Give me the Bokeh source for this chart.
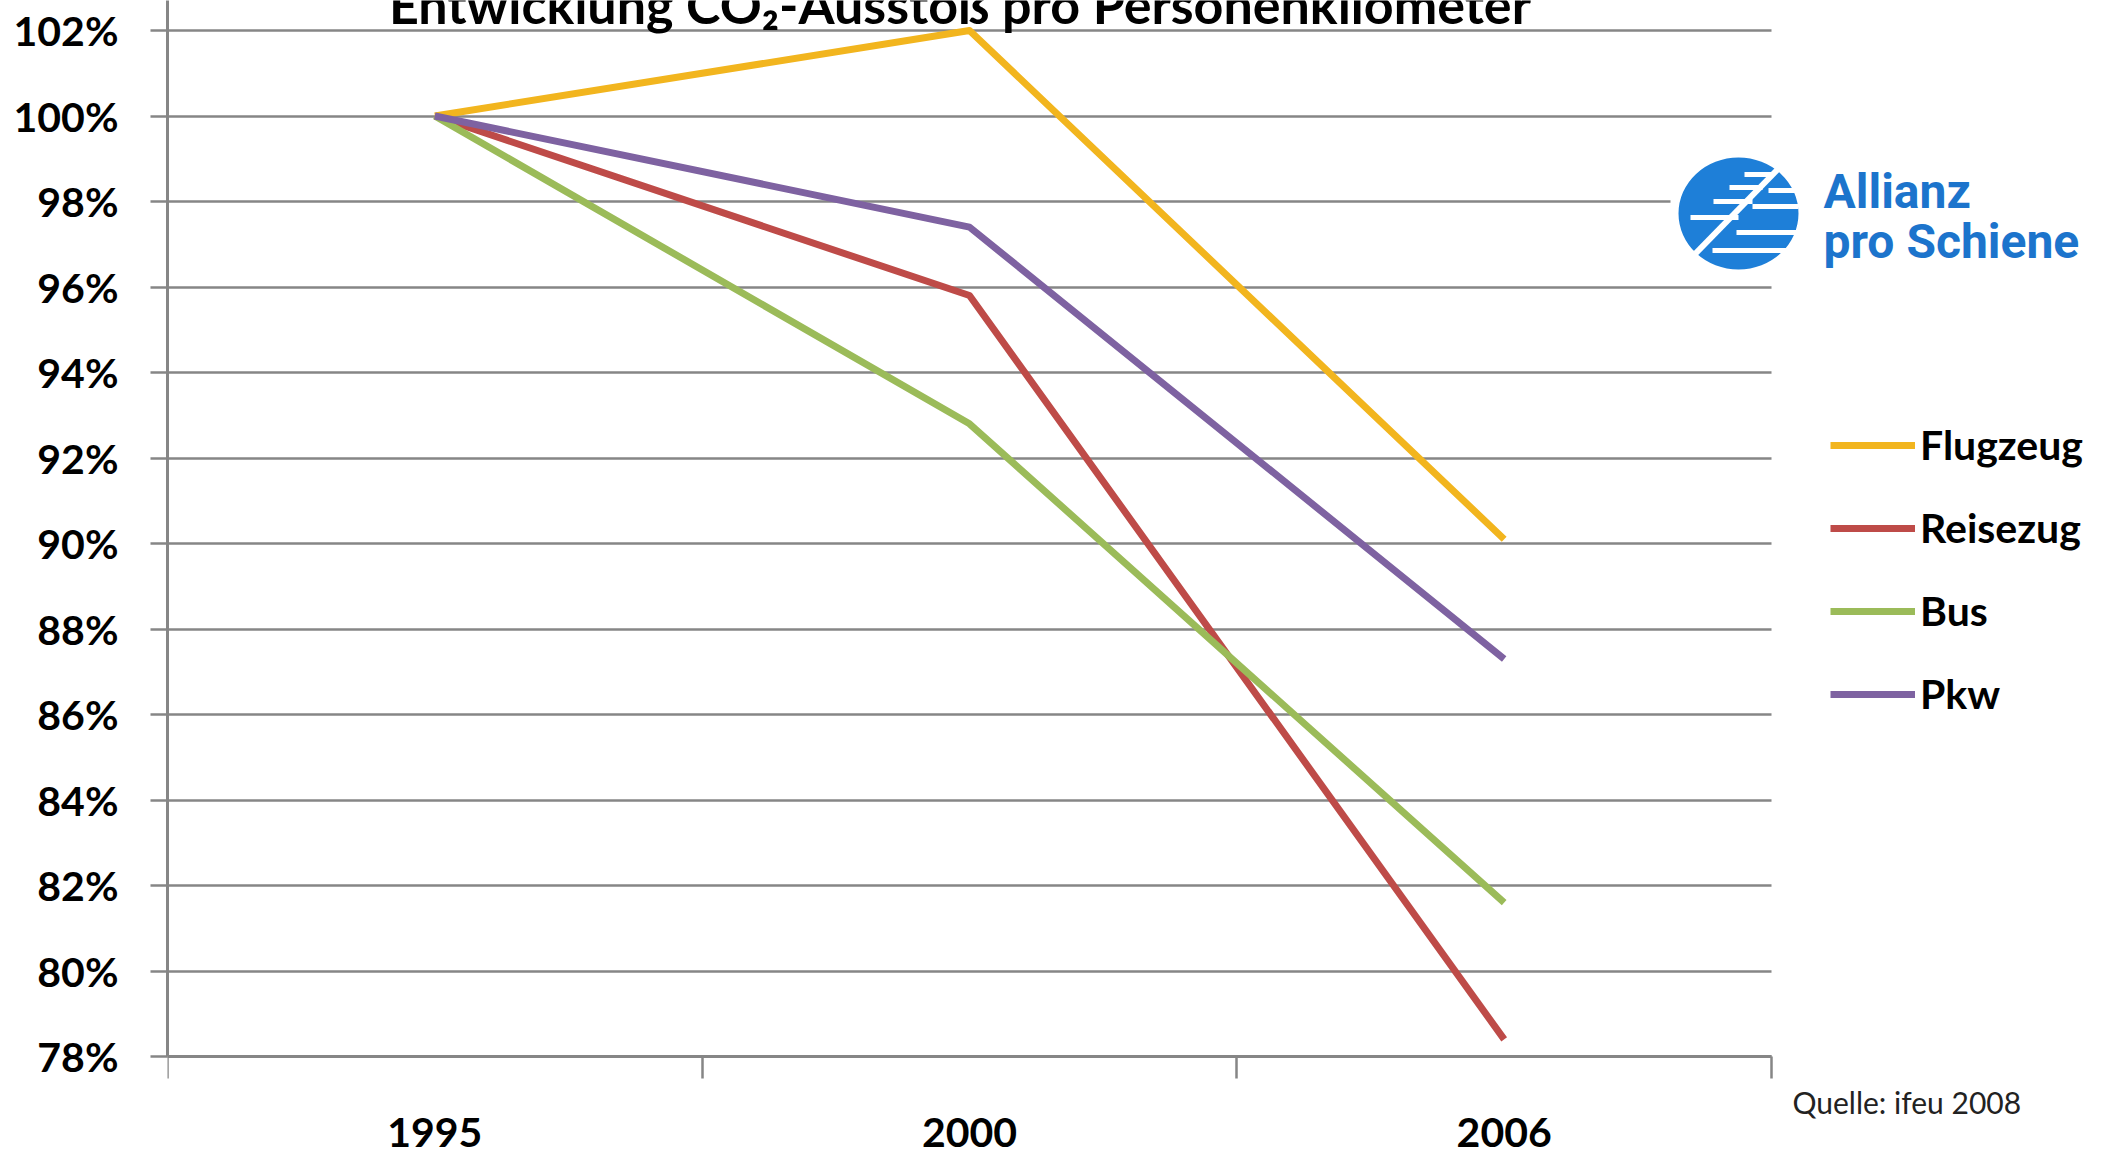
from bokeh.plotting import figure
from bokeh.models import Range1d, FixedTicker, PrintfTickFormatter, Legend, LegendItem, Label, Grid
from bokeh.embed import file_html
from bokeh.resources import INLINE

# ---------------- data ----------------
years = ["1995", "2000", "2006"]
flugzeug = [100.0, 102.0, 90.1]
reisezug = [100.0, 95.8, 78.4]
bus = [100.0, 92.8, 81.6]
pkw = [100.0, 97.4, 87.3]
series_names = ["Flugzeug", "Reisezug", "Bus", "Pkw"]
series_values = [flugzeug, reisezug, bus, pkw]
series_colors = ["#F2B51E", "#BE4B48", "#9BBB59", "#7E62A1"]
y_ticks = [78, 80, 82, 84, 86, 88, 90, 92, 94, 96, 98, 100, 102]
title_text = "Entwicklung CO\u2082-Ausstoß pro Personenkilometer"
source_text = "Quelle: ifeu 2008"
logo_text = ["Allianz", "pro Schiene"]

# ---------------- layout ----------------
W, H = 2112, 1154
LEFT = 167
AXIS_Y = 1056          # page row of the lowest gridline
TOP_GRID_Y = 30        # page row of the highest gridline
n = len(years)
unit_px = 534.67
x_end = (W - LEFT) / unit_px
px_per_pct = (AXIS_Y - TOP_GRID_Y) / (y_ticks[-1] - y_ticks[0])
y_start = y_ticks[0] - (H - AXIS_Y) / px_per_pct
y_end = y_ticks[-1] + TOP_GRID_Y / px_per_pct

GRID = "#868686"
FONT = "Lato"

p = figure(width=W, height=H, x_range=Range1d(0, x_end), y_range=Range1d(y_start, y_end),
           output_backend="svg", toolbar_location=None,
           min_border_left=LEFT, min_border_right=0, min_border_top=0, min_border_bottom=0,
           background_fill_color="white", border_fill_color="white")
p.outline_line_color = None

# pixel-like ranges (page coordinates) for decorations
p.extra_x_ranges = {"px": Range1d(LEFT, W)}
p.extra_y_ranges = {"px": Range1d(H, 0)}

centers = [i + 0.5 for i in range(n)]
bounds_ticks = [float(i) for i in range(n + 1)]

# x axis (drawn at the 78 % line)
xa = p.xaxis[0]
xa.fixed_location = y_ticks[0]
xa.ticker = FixedTicker(ticks=centers, minor_ticks=bounds_ticks)
xa.major_label_overrides = {c: y for c, y in zip(centers, years)}
xa.bounds = (0, n)
xa.axis_line_color = GRID
xa.axis_line_width = 3
xa.major_tick_line_color = None
xa.major_tick_out = 0
xa.major_tick_in = 0
xa.minor_tick_line_color = GRID
xa.minor_tick_line_width = 2.5
xa.minor_tick_out = 22
xa.minor_tick_in = 0
xa.major_label_standoff = 39
xa.major_label_text_font = FONT
xa.major_label_text_font_style = "bold"
xa.major_label_text_font_size = "41px"
xa.major_label_text_color = "black"

# y axis
ya = p.yaxis[0]
ya.ticker = FixedTicker(ticks=y_ticks)
ya.formatter = PrintfTickFormatter(format="%d%%")
ya.bounds = (y_ticks[0], y_end)
ya.axis_line_color = GRID
ya.axis_line_width = 3
ya.major_tick_line_color = GRID
ya.major_tick_line_width = 2.5
ya.major_tick_out = 17
ya.major_tick_in = 0
ya.minor_tick_line_color = None
ya.major_label_standoff = 32
ya.major_label_text_font = FONT
ya.major_label_text_font_style = "bold"
ya.major_label_text_font_size = "41px"
ya.major_label_text_color = "black"

# grid
p.xgrid.visible = False
yg = p.ygrid[0]
yg.ticker = FixedTicker(ticks=y_ticks)
yg.grid_line_color = GRID
yg.grid_line_width = 2.5
if "cross_bounds" in Grid.properties():
    yg.cross_bounds = (0, n)
else:
    yg.visible = False
    p.segment(x0=[0] * len(y_ticks), x1=[n] * len(y_ticks), y0=y_ticks, y1=y_ticks,
              line_color=GRID, line_width=2.5, level="underlay")

# data lines
items = []
for name, vals, col in zip(series_names, series_values, series_colors):
    r = p.line(centers, vals, line_color=col, line_width=7, line_join="round")
    items.append(LegendItem(label=name, renderers=[r]))

legend = Legend(items=items, location=(1663, 435.5), orientation="vertical",
                glyph_width=85, glyph_height=50, label_height=50, label_standoff=5,
                spacing=33, padding=0, margin=0, border_line_color=None,
                background_fill_alpha=0, label_text_font=FONT, label_text_font_style="bold",
                label_text_font_size="41px", label_text_color="black")
p.add_layout(legend, "center")

# logo (decoration, page coordinates)
BLUE = "#1E7FD8"
p.quad(left=[1670], right=[1802], top=[150], bottom=[276], fill_color="white", line_color=None,
       x_range_name="px", y_range_name="px")
p.ellipse(x=[1738], y=[213], width=[120], height=[112], fill_color=BLUE, line_color=None,
          x_range_name="px", y_range_name="px")
stripe_x0 = [1744, 1729, 1713, 1690, 1768, 1752, 1736, 1712]
stripe_x1 = [1772, 1762, 1752, 1738, 1798, 1798, 1798, 1786]
stripe_y = [174, 187, 201, 217, 190, 206, 232, 250]
p.segment(x0=stripe_x0, x1=stripe_x1, y0=stripe_y, y1=stripe_y, line_color="white", line_width=5,
          x_range_name="px", y_range_name="px")
p.segment(x0=[1694], y0=[254], x1=[1778], y1=[168], line_color="white", line_width=6,
          x_range_name="px", y_range_name="px")
for txt, bx, by in zip(logo_text, [1823, 1823], [191, 241]):
    p.add_layout(Label(x=bx, y=by, text=txt, x_range_name="px", y_range_name="px",
                       text_font="Roboto", text_font_style="bold", text_font_size="48px",
                       text_color="#1C74CC", text_baseline="alphabetic", text_align="left"))

# title (cut at the top as in the original)
p.add_layout(Label(x=959.5, y=3, text=title_text, x_range_name="px", y_range_name="px",
                   text_font=FONT, text_font_style="bold", text_font_size="52px",
                   text_color="black", text_baseline="alphabetic", text_align="center"))

# source
p.add_layout(Label(x=1792, y=1101, text=source_text, x_range_name="px", y_range_name="px",
                   text_font=FONT, text_font_size="30px", text_color="#222222",
                   text_baseline="alphabetic", text_align="left"))

open("out.html", "w").write(file_html(p, INLINE))
